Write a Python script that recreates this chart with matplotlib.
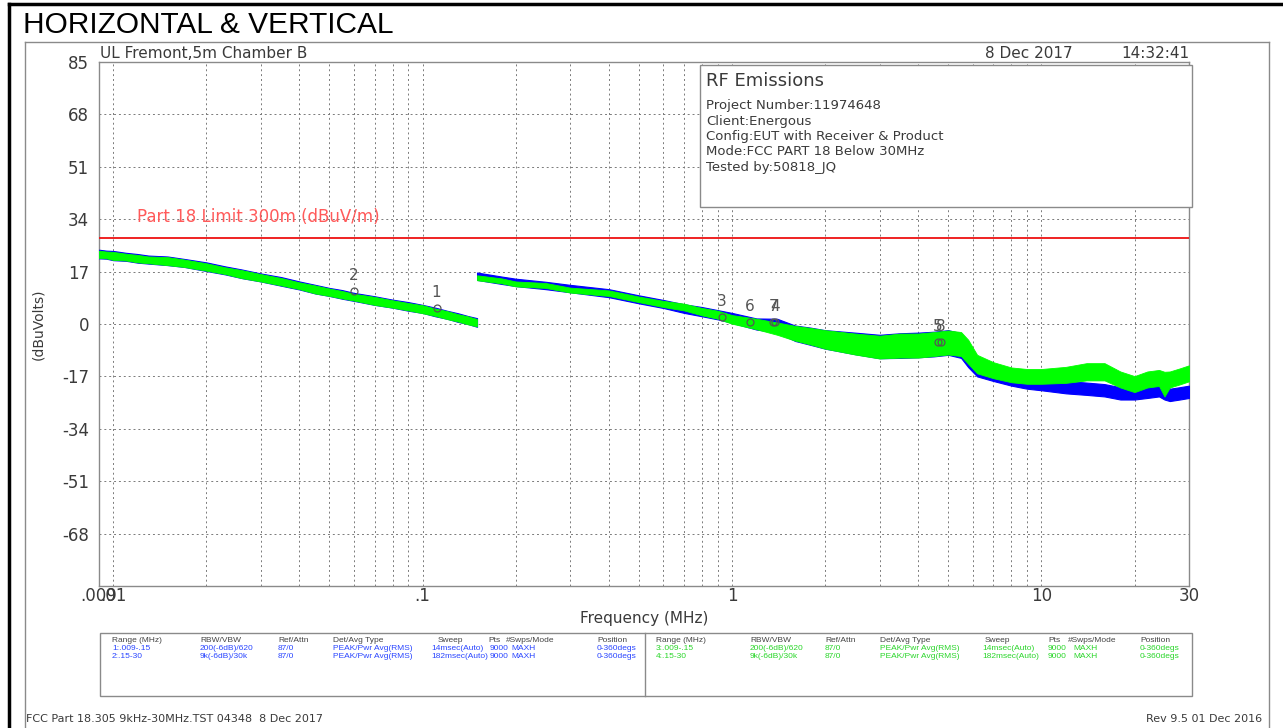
import matplotlib
matplotlib.use("Agg")
import numpy as np
import matplotlib.pyplot as plt
from matplotlib.lines import Line2D
from matplotlib.patches import Rectangle

# ---- data (dBuV) ----
# range 1/3: 9 kHz - 150 kHz
f_low = [0.009, 0.0095, 0.01, 0.011, 0.012, 0.013, 0.015, 0.017, 0.02, 0.023,
         0.026, 0.03, 0.035, 0.04, 0.045, 0.05, 0.055, 0.06, 0.07, 0.08,
         0.09, 0.1, 0.11, 0.12, 0.13, 0.14, 0.15]
horiz_low = [22.7, 22.5, 22.2, 21.8, 21.3, 20.9, 20.5, 19.8, 18.6, 17.4,
             16.3, 15.1, 13.8, 12.5, 11.3, 10.4, 9.6, 8.8, 7.6, 6.6,
             5.7, 4.9, 3.9, 3.0, 2.1, 1.3, 0.5]
vert_low = [22.6, 22.4, 22.1, 21.7, 21.2, 20.8, 20.4, 19.7, 18.5, 17.3,
            16.2, 15.0, 13.7, 12.4, 11.2, 10.3, 9.5, 8.7, 7.5, 6.5,
            5.6, 4.8, 3.8, 2.9, 2.0, 1.2, 0.4]
horiz_low_spread = [1.4, 1.3, 1.5, 1.3, 1.4, 1.3, 1.4, 1.3, 1.4, 1.3,
                    1.4, 1.3, 1.4, 1.3, 1.4, 1.3, 1.4, 1.3, 1.4, 1.3,
                    1.4, 1.3, 1.4, 1.3, 1.4, 1.3, 1.4]
vert_low_spread = [1.2, 1.1, 1.3, 1.1, 1.2, 1.1, 1.3, 1.2, 1.2, 1.1,
                   1.3, 1.2, 1.2, 1.1, 1.3, 1.2, 1.2, 1.1, 1.3, 1.2,
                   1.2, 1.3, 1.2, 1.3, 1.2, 1.3, 1.2]

# range 2/4: 150 kHz - 30 MHz
f_high = [0.15, 0.18, 0.2, 0.25, 0.3, 0.4, 0.5, 0.6, 0.7, 0.8,
          0.9, 1.0, 1.2, 1.4, 1.6, 1.8, 2.0, 2.5, 3.0, 3.5,
          4.0, 4.5, 5.0, 5.5, 5.8, 6.2, 7.0, 8.0, 9.0, 10,
          12, 14, 16, 18, 20, 22, 24, 25, 26, 28, 30]
horiz_high = [15.5, 14.2, 13.5, 12.5, 11.5, 10.0, 8.0, 6.5, 5.0, 4.0,
              3.0, 2.0, 0.0, -0.5, -3.0, -4.0, -5.0, -6.3, -7.3, -7.0,
              -6.8, -6.5, -6.0, -7.0, -10.0, -14.0, -16.0, -18.0, -19.0, -19.5,
              -20.5, -21.0, -21.5, -22.5, -22.5, -22.0, -21.0, -21.5, -23.0, -22.5, -22.0]
vert_high = [15.0, 14.0, 13.0, 12.5, 11.0, 10.0, 8.0, 6.5, 5.5, 4.0,
             3.0, 1.5, 0.0, -1.5, -3.0, -4.0, -5.0, -6.5, -7.5, -7.0,
             -7.0, -6.5, -6.0, -6.5, -9.0, -13.0, -15.0, -16.5, -17.0, -17.0,
             -16.5, -15.5, -15.5, -18.0, -19.5, -18.0, -17.5, -19.5, -18.0, -17.0, -16.0]
horiz_high_spread = [1.2, 1.2, 1.2, 1.2, 1.2, 1.3, 1.3, 1.3, 1.4, 1.5,
                     1.5, 1.6, 1.8, 2.2, 2.5, 2.8, 3.0, 3.5, 3.8, 4.0,
                     4.0, 4.0, 4.0, 4.0, 4.0, 3.0, 2.5, 2.0, 2.0, 2.0,
                     2.0, 2.0, 2.0, 2.0, 2.0, 2.0, 2.5, 3.0, 2.0, 2.0, 2.0]
vert_high_spread = [0.8, 0.8, 0.8, 0.8, 0.8, 0.9, 0.9, 1.0, 1.1, 1.2,
                    1.3, 1.4, 1.7, 2.0, 2.4, 2.7, 3.0, 3.4, 3.7, 3.9,
                    3.9, 3.9, 3.9, 3.9, 3.9, 3.0, 2.6, 2.4, 2.4, 2.4,
                    2.6, 2.8, 2.8, 2.6, 2.6, 2.6, 2.6, 4.0, 2.6, 2.6, 2.6]

limit_level = 27.9

marker_ids = ["1", "2", "3", "4", "5", "6", "7", "8"]
marker_freq = [0.111, 0.060, 0.927, 1.38, 4.63, 1.143, 1.36, 4.74]
marker_level = [5.2, 10.7, 2.3, 0.6, -5.8, 0.6, 0.6, -5.8]

x_ticks = [0.009, 0.01, 0.1, 1, 10, 30]
x_tick_labels = [".009", ".01", ".1", "1", "10", "30"]
y_ticks = [-85, -68, -51, -34, -17, 0, 17, 34, 51, 68, 85]
y_tick_labels = ["", "-68", "-51", "-34", "-17", "0", "17", "34", "51", "68", "85"]

info_lines = ["Project Number:11974648", "Client:Energous",
              "Config:EUT with Receiver & Product",
              "Mode:FCC PART 18 Below 30MHz", "Tested by:50818_JQ"]

table_header = ["Range (MHz)", "RBW/VBW", "Ref/Attn", "Det/Avg Type",
                "Sweep", "Pts", "#Swps/Mode", "Position"]
table_blue = [["1:.009-.15", "200(-6dB)/620", "87/0", "PEAK/Pwr Avg(RMS)",
               "14msec(Auto)", "9000", "MAXH", "0-360degs"],
              ["2:.15-30", "9k(-6dB)/30k", "87/0", "PEAK/Pwr Avg(RMS)",
               "182msec(Auto)", "9000", "MAXH", "0-360degs"]]
table_green = [["3:.009-.15", "200(-6dB)/620", "87/0", "PEAK/Pwr Avg(RMS)",
                "14msec(Auto)", "9000", "MAXH", "0-360degs"],
               ["4:.15-30", "9k(-6dB)/30k", "87/0", "PEAK/Pwr Avg(RMS)",
                "182msec(Auto)", "9000", "MAXH", "0-360degs"]]

# ---- layout ----
W, H = 1283, 728
TXT = "#3a3a3a"
FRAME = "#8a8a8a"
BLUE = "#0000ff"
GREEN = "#00ff00"

def fx(x):
    return x / W

def fy(y):
    return 1 - y / H

plt.rcParams["font.family"] = ["DejaVu Sans"]
fig = plt.figure(figsize=(W / 100, H / 100), dpi=100)

# outer frames
fig.add_artist(Line2D([fx(9), fx(9)], [fy(4), 0], color="black", lw=2.5))
fig.add_artist(Line2D([fx(9), 1], [fy(4), fy(4)], color="black", lw=2.5))
fig.add_artist(Line2D([fx(25), fx(1269)], [fy(42), fy(42)], color=FRAME, lw=1))
fig.add_artist(Line2D([fx(25), fx(25)], [fy(42), 0], color=FRAME, lw=1))
fig.add_artist(Line2D([fx(1269), fx(1269)], [fy(42), 0], color=FRAME, lw=1))

fig.text(fx(23), fy(25), "HORIZONTAL & VERTICAL", family="Liberation Sans",
         fontsize=21.5, va="center", ha="left", color="black")

ax = fig.add_axes([fx(99), fy(586), fx(1189) - fx(99), fy(62) - fy(586)])
ax.set_xscale("log")
ax.set_xlim(0.009, 30)
ax.set_ylim(-85, 85)

minor_x = [m * 10.0 ** e for e in (-2, -1, 0, 1) for m in range(1, 10)
           if 0.009 < m * 10.0 ** e < 30]
ax.set_xticks(minor_x, minor=True)
ax.set_xticks(x_ticks)
ax.set_xticklabels(x_tick_labels)
ax.set_yticks(y_ticks)
ax.set_yticklabels(y_tick_labels)
ax.xaxis.set_minor_formatter(plt.NullFormatter())
ax.tick_params(which="both", length=0, colors=TXT, labelsize=12)
ax.tick_params(axis="x", pad=1)
ax.tick_params(axis="y", pad=7)
ax.grid(which="both", color="#7a7a7a", ls=(0, (2, 3)), lw=0.7)
for s in ax.spines.values():
    s.set_color(FRAME)
    s.set_linewidth(1)

ax.set_xlabel("Frequency (MHz)", fontsize=11, color=TXT, labelpad=4)
ax.set_ylabel("(dBuVolts)", fontsize=10, color=TXT, labelpad=12)

# traces: horizontal (blue) under vertical (green)
for f, c, s in [(f_low, horiz_low, horiz_low_spread),
                (f_high, horiz_high, horiz_high_spread)]:
    c, s = np.array(c), np.array(s)
    ax.fill_between(f, c - s, c + s, color=BLUE, lw=0.8, zorder=3)
for f, c, s in [(f_low, vert_low, vert_low_spread),
                (f_high, vert_high, vert_high_spread)]:
    c, s = np.array(c), np.array(s)
    ax.fill_between(f, c - s, c + s, color=GREEN, lw=0.6, zorder=4)

ax.axhline(limit_level, color="#ee1111", lw=1.3, zorder=5)
ax.text(0.035, 0.705, "Part 18 Limit 300m (dBuV/m)", transform=ax.transAxes,
        fontsize=12, color="#ff5a5a", va="center", ha="left", zorder=6)

ax.plot(marker_freq, marker_level, "o", mfc="none", mec="#555555", ms=5,
        mew=0.9, zorder=6)
for n, f, v in zip(marker_ids, marker_freq, marker_level):
    ax.annotate(n, (f, v), xytext=(0, 6), textcoords="offset points",
                ha="center", va="bottom", fontsize=11, color="#555555",
                zorder=6)

# info box
ax.add_patch(Rectangle((0.551, 0.723), 0.452, 0.271, transform=ax.transAxes,
                       facecolor="white", edgecolor=FRAME, lw=1,
                       clip_on=False, zorder=7))
fig.text(fx(706), fy(81), "RF Emissions", fontsize=13, color=TXT,
         va="center", ha="left", zorder=8)
for i, line in enumerate(info_lines):
    fig.text(fx(706), fy(106 + 15.3 * i), line, fontsize=9.5, color=TXT,
             va="center", ha="left", zorder=8)

fig.text(fx(100), fy(53), "UL Fremont,5m Chamber B", fontsize=11,
         color=TXT, va="center", ha="left")
fig.text(fx(985), fy(53), "8 Dec 2017", fontsize=11, color=TXT,
         va="center", ha="left")
fig.text(fx(1189), fy(53), "14:32:41", fontsize=11, color=TXT,
         va="center", ha="right")

# settings table
fig.add_artist(Rectangle((fx(100), fy(696)), fx(1192) - fx(100),
                         fy(633) - fy(696), transform=fig.transFigure,
                         facecolor="none", edgecolor=FRAME, lw=1))
fig.add_artist(Line2D([fx(645), fx(645)], [fy(633), fy(696)], color=FRAME, lw=1))
head_x_l = [112, 200, 278, 333, 438, 488, 506, 597]
row_x_l = [112, 200, 278, 333, 431, 490, 511, 597]
head_x_r = [656, 750, 825, 880, 985, 1048, 1068, 1140]
row_x_r = [656, 750, 825, 880, 982, 1048, 1073, 1140]
for hx, rx, rows, col in [(head_x_l, row_x_l, table_blue, "#2a46ff"),
                          (head_x_r, row_x_r, table_green, "#2ad62a")]:
    for t, x in zip(table_header, hx):
        fig.text(fx(x), fy(641), t, fontsize=6, color="#444444",
                 family="Liberation Sans", va="center", ha="left")
    for r, row in enumerate(rows):
        for t, x in zip(row, rx):
            fig.text(fx(x), fy(649 + 8 * r), t, fontsize=6, color=col,
                     family="Liberation Sans", va="center", ha="left")

fig.text(fx(26), fy(719), "FCC Part 18.305 9kHz-30MHz.TST 04348  8 Dec 2017",
         fontsize=8, color=TXT, va="center", ha="left")
fig.text(fx(1262), fy(719), "Rev 9.5 01 Dec 2016", fontsize=8, color=TXT,
         va="center", ha="right")

fig.savefig("out.png", dpi=100)
